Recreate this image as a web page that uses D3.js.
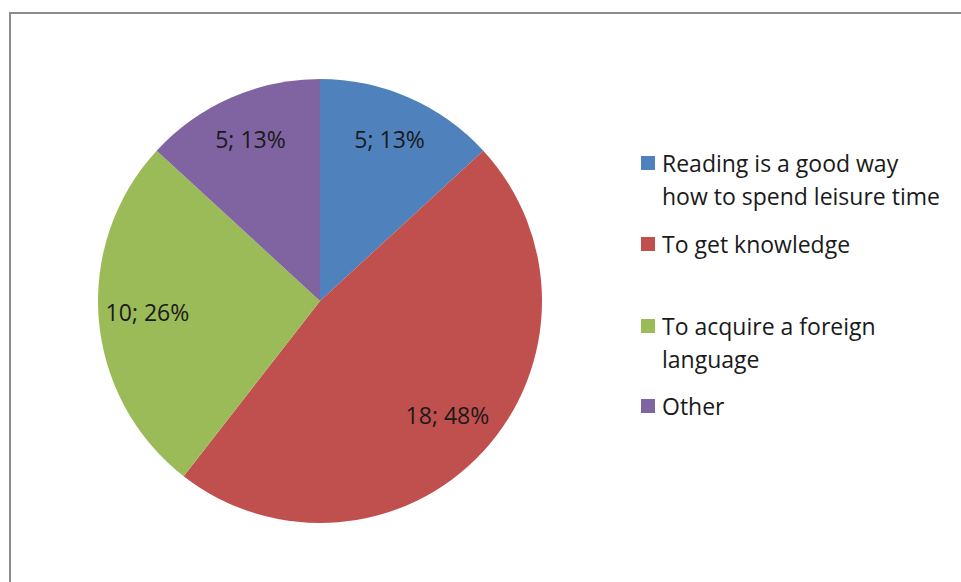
<!DOCTYPE html>
<html>
<head>
<meta charset="utf-8">
<script src="https://cdn.jsdelivr.net/npm/d3@7/dist/d3.min.js"></script>
<style>
  html, body { margin: 0; padding: 0; background: #fff; }
  svg { display: block; }
</style>
</head>
<body>
<svg id="chart" width="961" height="582"></svg>
<script>
// Survey answers: why do you read?
const categories = [
    ["Reading is a good way", "how to spend leisure time"],
    ["To get knowledge"],
    ["To acquire a foreign", "language"],
    ["Other"]
];
const values = [5, 18, 10, 5];
const percentLabels = ["13%", "48%", "26%", "13%"];
const colors = ["#4F81BD", "#C0504D", "#9BBB59", "#8064A2"];

const svg = d3.select("#chart");
const font = "'Open Sans', sans-serif";

// chart area border (runs off the right/bottom edge)
svg.append("rect")
    .attr("x", 10).attr("y", 13)
    .attr("width", 1000).attr("height", 700)
    .attr("fill", "#fff")
    .attr("stroke", "#8c8c8c")
    .attr("stroke-width", 2);

const cx = 320, cy = 301, radius = 222;

const pie = d3.pie().sort(null).value(d => d);
const arcs = pie(values);

const arc = d3.arc().innerRadius(0).outerRadius(radius);
const labelArc = d3.arc().innerRadius(radius * 0.78).outerRadius(radius * 0.78);

const g = svg.append("g").attr("transform", `translate(${cx},${cy})`);

g.selectAll(".slice")
    .data(arcs)
    .enter()
    .append("path")
    .attr("class", "slice")
    .attr("d", arc)
    .attr("fill", (d, i) => colors[i]);

g.selectAll(".slice-label")
    .data(arcs)
    .enter()
    .append("text")
    .attr("class", "slice-label")
    .attr("transform", d => {
        const [x, y] = labelArc.centroid(d);
        return `translate(${x},${y - 3})`;
    })
    .attr("text-anchor", "middle")
    .attr("dominant-baseline", "central")
    .attr("font-family", font)
    .attr("font-size", "23px")
    .attr("fill", "#1a1a1a")
    .text((d, i) => `${values[i]}; ${percentLabels[i]}`);

// legend
const legendY = [163, 244, 326, 406];
const lineH = 33;

const legend = svg.append("g").attr("class", "legend");
const items = legend.selectAll(".item")
    .data(categories)
    .enter()
    .append("g")
    .attr("class", "item")
    .attr("transform", (d, i) => `translate(641,${legendY[i]})`);

items.append("rect")
    .attr("x", 0).attr("y", -7)
    .attr("width", 14).attr("height", 14)
    .attr("fill", (d, i) => colors[i]);

items.each(function(lines) {
    const t = d3.select(this).append("text")
        .attr("font-family", font)
        .attr("font-size", "23px")
        .attr("fill", "#1a1a1a");
    lines.forEach((line, k) => {
        t.append("tspan")
            .attr("x", 21)
            .attr("y", k * lineH)
            .attr("dominant-baseline", "central")
            .text(line);
    });
});
</script>
</body>
</html>
